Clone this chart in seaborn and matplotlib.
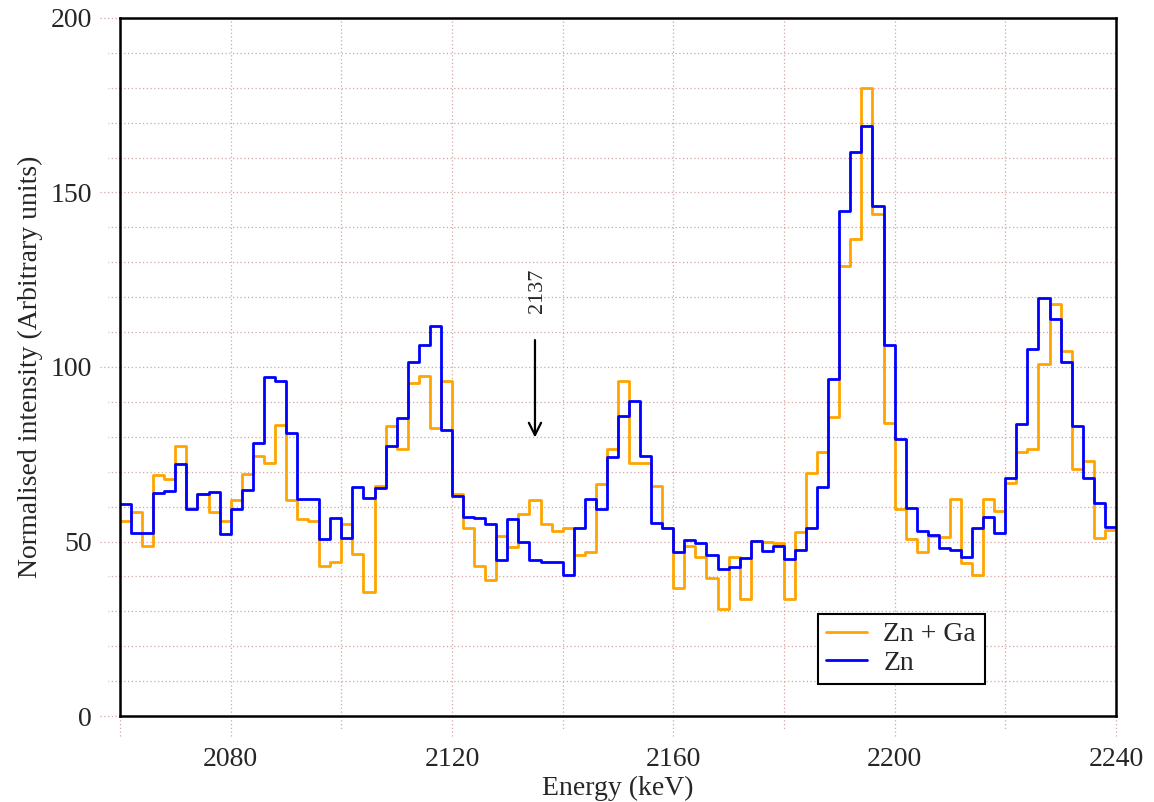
import numpy as np
import pandas as pd
import matplotlib
matplotlib.use("Agg")
import matplotlib.pyplot as plt
import matplotlib.transforms as mtransforms
import seaborn as sns

# ---- data ----
bin_start = 2060
bin_width = 2
zn = [60.8, 52.4, 52.4, 64.0, 64.4, 72.1, 59.2, 63.5, 64.3, 52.2,
      59.2, 64.7, 78.3, 97.1, 95.9, 81.2, 62.2, 62.2, 50.7, 56.6,
      51.0, 65.7, 62.4, 65.4, 77.3, 85.5, 101.4, 106.3, 111.7, 81.9,
      63.1, 57.1, 56.6, 55.0, 44.6, 56.5, 49.9, 44.6, 44.0, 44.1,
      40.3, 53.8, 62.1, 59.2, 74.3, 85.9, 90.2, 74.5, 55.2, 53.8,
      47.0, 50.4, 49.7, 46.1, 42.2, 42.7, 45.4, 50.1, 47.3, 48.7,
      45.0, 47.5, 53.8, 65.6, 96.5, 144.8, 161.7, 169.0, 146.0, 106.2,
      79.4, 59.7, 53.1, 51.8, 48.0, 47.6, 45.5, 53.8, 57.1, 52.5,
      68.1, 83.8, 105.1, 119.7, 113.8, 101.5, 83.0, 68.1, 61.1, 54.2]
zn_ga = [56.0, 58.4, 48.6, 69.0, 67.9, 77.4, 59.5, 63.6, 58.5, 56.0,
         61.9, 69.4, 74.5, 72.4, 83.3, 61.9, 56.5, 56.0, 43.0, 44.1,
         55.0, 46.5, 35.5, 66.0, 83.0, 76.6, 95.5, 97.4, 82.4, 95.9,
         63.5, 53.9, 43.0, 39.1, 51.5, 48.5, 58.0, 61.9, 55.1, 53.0,
         54.0, 46.0, 47.1, 66.5, 76.5, 95.9, 72.4, 72.4, 66.0, 53.9,
         36.6, 48.6, 45.5, 39.6, 30.6, 45.5, 33.6, 50.1, 50.0, 49.7,
         33.6, 52.8, 69.7, 75.6, 85.6, 128.8, 136.7, 180.0, 143.8, 84.0,
         59.3, 50.6, 47.1, 51.5, 51.3, 62.3, 43.7, 40.4, 62.3, 58.8,
         66.9, 75.7, 76.5, 101.0, 118.1, 104.7, 70.7, 73.1, 50.9, 53.3]
series_names = ["Zn + Ga", "Zn"]
annot_energy = 2135
annot_label = "2137"
x_major = [2080, 2120, 2160, 2200, 2240]
y_major = [0, 50, 100, 150, 200]

edges = bin_start + bin_width * np.arange(len(zn) + 1)

def step_frame(vals, name):
    v = list(vals) + [vals[-1]]
    return pd.DataFrame({"Energy": edges, "Intensity": v, "Series": name})

df = pd.concat([step_frame(zn_ga, series_names[0]), step_frame(zn, series_names[1])],
               ignore_index=True)

# ---- style ----
sns.set_theme(style="white")
plt.rcParams["font.family"] = ["Liberation Serif", "DejaVu Serif"]

fig = plt.figure(figsize=(11.54, 8.02), dpi=100)
ax = fig.add_axes([0.104, 0.1072, 0.863, 0.8704])

grid_c = "#d4a5a5"
palette = {series_names[0]: "#FFA500", series_names[1]: "#0000FF"}

sns.lineplot(data=df, x="Energy", y="Intensity", hue="Series", palette=palette,
             estimator=None, sort=False, drawstyle="steps-post", linewidth=2.0,
             ax=ax, legend=True)

ax.set_xlim(2060, 2240)
ax.set_ylim(0, 200)

ax.set_xticks(x_major)
ax.set_xticks(np.arange(2060, 2241, 20), minor=True)
ax.set_yticks(y_major)
ax.set_yticks(np.arange(0, 201, 10), minor=True)
ax.tick_params(which="both", length=0, labelsize=20)
ax.tick_params(axis="x", pad=22)
ax.tick_params(axis="y", pad=20)

ax.grid(which="both", color=grid_c, linestyle=(0, (1, 2)), linewidth=0.9)
ax.set_axisbelow(True)

# dotted tick extensions outside the frame
tx = mtransforms.blended_transform_factory(ax.transData, ax.transAxes)
ty = mtransforms.blended_transform_factory(ax.transAxes, ax.transData)
for xv in np.arange(2060, 2241, 20):
    L = 0.03 if xv in x_major or xv == 2060 else 0.022
    ax.plot([xv, xv], [0, -L], transform=tx, clip_on=False, color=grid_c,
            linestyle=(0, (1, 2)), linewidth=0.9)
for yv in np.arange(0, 201, 10):
    L = 0.02 if yv in y_major else 0.012
    ax.plot([0, -L], [yv, yv], transform=ty, clip_on=False, color=grid_c,
            linestyle=(0, (1, 2)), linewidth=0.9)

for s in ax.spines.values():
    s.set_color("black")
    s.set_linewidth(1.8)
    s.set_zorder(5)

ax.set_xlabel("Energy (keV)", fontsize=20, labelpad=0)
ax.xaxis.set_label_coords(0.5, -0.085)
ax.set_ylabel("Normalised intensity (Arbitrary units)", fontsize=20)
ax.yaxis.set_label_coords(-0.077, 0.5)

# annotation arrow
ax.annotate("", xy=(annot_energy, 79), xytext=(annot_energy, 108.5),
            arrowprops=dict(arrowstyle="->", color="black", lw=1.6,
                            mutation_scale=22))
ax.text(annot_energy + 0.5, 115.5, annot_label, rotation=90, ha="center",
        va="bottom", fontsize=16)

leg = ax.legend(loc="lower left", bbox_to_anchor=(0.701, 0.046), fontsize=20,
                frameon=True, fancybox=False, framealpha=1, edgecolor="black",
                handlelength=1.45, borderpad=0.3, labelspacing=0.1,
                handletextpad=0.6, borderaxespad=0)
leg.get_frame().set_linewidth(1.5)
leg.set_title(None)

fig.savefig("out.png", dpi=100)
